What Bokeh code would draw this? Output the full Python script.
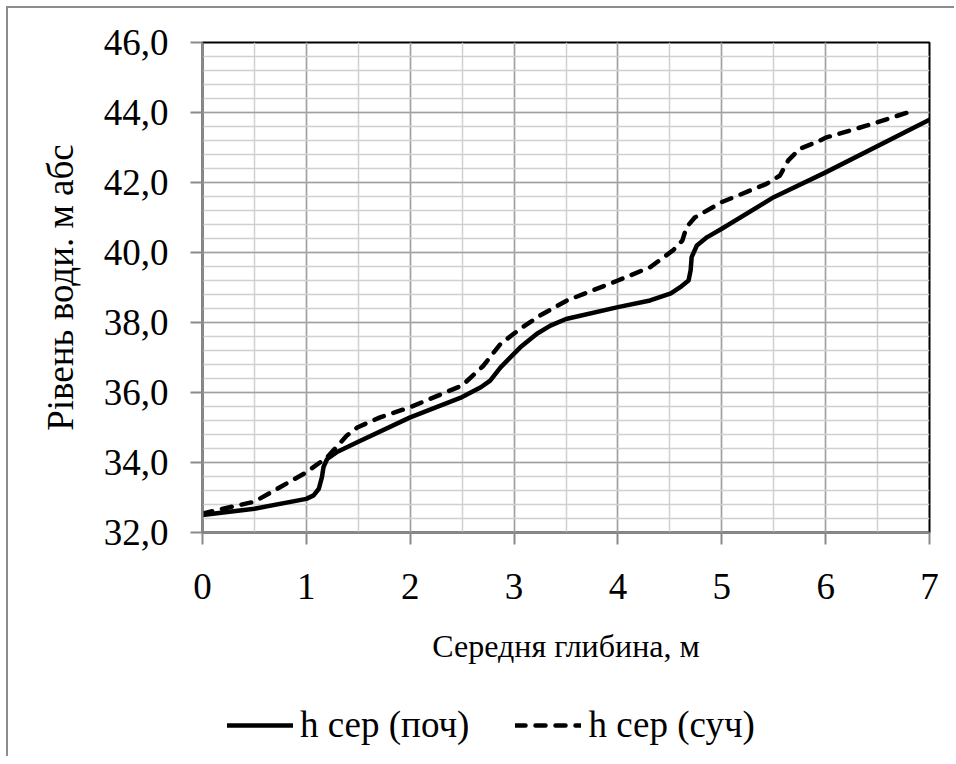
from bokeh.plotting import figure
from bokeh.layouts import column
from bokeh.models import (FixedTicker, CustomJSTickFormatter, Legend, LegendItem,
                          Range1d)
from bokeh.embed import file_html
from bokeh.resources import INLINE

# ---- data ----
x_poch = [0, 0.5, 1.0, 1.07, 1.12, 1.15, 1.165, 1.2, 1.29, 1.49, 2.0, 2.5, 2.68,
          2.77, 2.87, 3.06, 3.22, 3.35, 3.5, 4.0, 4.31, 4.51, 4.6, 4.68, 4.70,
          4.71, 4.76, 4.86, 5.0, 5.5, 6.0, 7.0]
h_poch = [32.5, 32.68, 32.96, 33.06, 33.25, 33.58, 33.87, 34.1, 34.29, 34.58,
          35.29, 35.87, 36.15, 36.34, 36.72, 37.29, 37.68, 37.91, 38.1, 38.44,
          38.63, 38.83, 39.01, 39.2, 39.49, 39.87, 40.2, 40.44, 40.68, 41.58,
          42.29, 43.79]

x_such = [0, 0.2, 0.5, 0.75, 1.0, 1.2, 1.39, 1.49, 1.71, 2.0, 2.5, 2.7, 2.87,
          3.06, 3.25, 3.51, 4.0, 4.31, 4.53, 4.62, 4.66, 4.74, 5.0, 5.43, 5.56,
          5.64, 5.75, 5.91, 6.0, 6.4, 6.78]
h_such = [32.54, 32.68, 32.88, 33.3, 33.72, 34.15, 34.77, 35.0, 35.29, 35.58,
          36.2, 36.75, 37.39, 37.82, 38.2, 38.63, 39.2, 39.58, 40.06, 40.34,
          40.72, 41.0, 41.44, 41.96, 42.2, 42.63, 42.96, 43.15, 43.28, 43.63,
          43.99]

x_ticks = [0, 1, 2, 3, 4, 5, 6, 7]
x_minor = [0, 0.5, 1, 1.5, 2, 2.5, 3, 3.5, 4, 4.5, 5, 5.5, 6, 6.5, 7]
y_ticks = [32, 34, 36, 38, 40, 42, 44, 46]
y_minor = [32.0, 32.4, 32.8, 33.2, 33.6, 34.0, 34.4, 34.8, 35.2, 35.6, 36.0,
           36.4, 36.8, 37.2, 37.6, 38.0, 38.4, 38.8, 39.2, 39.6, 40.0, 40.4,
           40.8, 41.2, 41.6, 42.0, 42.4, 42.8, 43.2, 43.6, 44.0, 44.4, 44.8,
           45.2, 45.6, 46.0]

x_title = "Середня глибина, м"
y_title = "Рівень води. м абс"
names = ["h сер (поч)", "h сер (суч)"]

FONT = "Liberation Serif"
LINE_W = 4.5
DASH = "10 10"

p = figure(width=946, height=682, output_backend="svg", toolbar_location=None,
           x_range=Range1d(0, 7), y_range=Range1d(32, 46),
           min_border_left=194, min_border_top=34, min_border_right=25,
           min_border_bottom=158)
p.background_fill_color = "white"
p.border_fill_color = "white"
p.outline_line_color = "black"
p.outline_line_width = 2

for ax, ticks, minor in ((p.xaxis[0], x_ticks, x_minor), (p.yaxis[0], y_ticks, y_minor)):
    ax.ticker = FixedTicker(ticks=ticks, minor_ticks=minor)
    ax.axis_line_color = "#8a8a8a"
    ax.axis_line_width = 2
    ax.major_tick_line_color = "#8a8a8a"
    ax.major_tick_line_width = 2
    ax.major_tick_out = 12
    ax.major_tick_in = 0
    ax.minor_tick_out = 0
    ax.minor_tick_in = 0
    ax.major_label_text_font = FONT
    ax.major_label_text_font_size = "37px"
    ax.major_label_text_color = "black"
    ax.axis_label_text_font = FONT
    ax.axis_label_text_font_style = "normal"
    ax.axis_label_text_color = "black"

p.yaxis[0].formatter = CustomJSTickFormatter(code="return tick.toFixed(1).replace('.', ',');")
p.yaxis[0].major_label_standoff = 22
p.yaxis[0].axis_label = y_title
p.yaxis[0].axis_label_text_font_size = "37px"
p.yaxis[0].axis_label_standoff = 20

p.xaxis[0].major_label_standoff = 29
p.xaxis[0].axis_label = x_title
p.xaxis[0].axis_label_text_font_size = "32px"
p.xaxis[0].axis_label_standoff = 26

for g in (p.xgrid[0], p.ygrid[0]):
    g.grid_line_color = "#a0a0a0"
    g.grid_line_width = 1.5
    g.minor_grid_line_color = "#d0d0d0"
    g.minor_grid_line_width = 1.5
p.xgrid[0].ticker = FixedTicker(ticks=x_ticks, minor_ticks=x_minor)
p.ygrid[0].ticker = FixedTicker(ticks=y_ticks, minor_ticks=y_minor)

p.line(x_poch, h_poch, line_color="black", line_width=LINE_W, line_join="round",
       line_cap="round")
p.line(x_such, h_such, line_color="black", line_width=LINE_W, line_dash=DASH,
       line_join="round", line_cap="round")

# ---- legend strip below the chart (keys only, their lines lie outside the view) ----
pl = figure(width=946, height=66, output_backend="svg", toolbar_location=None,
            x_range=Range1d(0, 1), y_range=Range1d(0, 1),
            x_axis_type=None, y_axis_type=None, min_border=0)
pl.outline_line_color = None
pl.background_fill_color = "white"
pl.border_fill_color = "white"
pl.xgrid.visible = False
pl.ygrid.visible = False
k1 = pl.line([5, 6], [5, 6], line_color="black", line_width=LINE_W, line_cap="round")
k2 = pl.line([5, 6], [5, 6], line_color="black", line_width=LINE_W, line_dash=DASH,
             line_cap="round")
legend = Legend(items=[LegendItem(label=names[0], renderers=[k1]),
                       LegendItem(label=names[1], renderers=[k2])],
                location=(25, 10), orientation="horizontal",
                glyph_width=66, glyph_height=40, label_height=40,
                label_standoff=7, spacing=46, padding=0, margin=0,
                border_line_color=None, background_fill_alpha=0,
                label_text_font=FONT, label_text_font_size="37px",
                label_text_color="black")
pl.add_layout(legend)

layout = column(p, pl, spacing=0,
                styles={"margin-left": "6px", "margin-top": "6px",
                        "border-left": "2px solid #8c8c8c",
                        "border-top": "2px solid #8c8c8c"})

open("out.html", "w").write(file_html(layout, INLINE))
